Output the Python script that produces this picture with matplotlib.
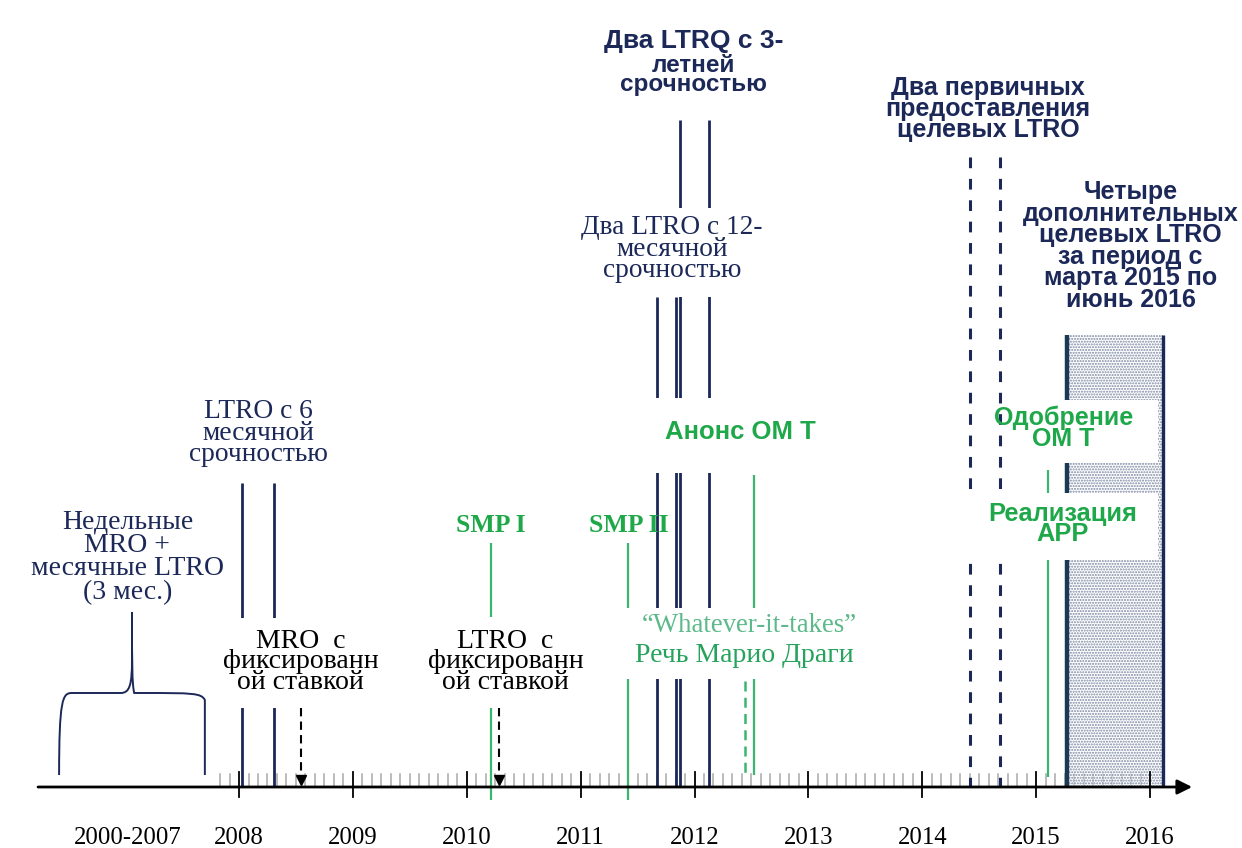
import matplotlib
matplotlib.use("Agg")
import matplotlib.pyplot as plt
from matplotlib.patches import Rectangle, PathPatch
from matplotlib.path import Path

# ECB operations timeline (dates as decimal years)
ltro_6m = [2008.03, 2008.31]
mro_fixed = 2008.54
smp_1 = 2010.21
ltro_fixed = 2010.28
smp_2 = 2011.42
ltro_12m = [2011.67, 2011.84]
ltro_3y = [2011.87, 2012.13]
whatever_speech = 2012.44
omt_announce = 2012.52
tltro_first = [2014.42, 2014.68]
app_start = 2015.10
tltro_more = [2015.27, 2016.11]

years = [2008, 2009, 2010, 2011, 2012, 2013, 2014, 2015, 2016]
year_labels = [str(y) for y in years]
early_label = "2000-2007"

NAVY = "#1b2858"
GREEN = "#3cb56e"
GREEN_TXT = "#1fa84a"
SERIF = "Liberation Serif"
SANS = "Liberation Sans"

fig = plt.figure(figsize=(12.42, 8.48), dpi=100)
ax = fig.add_axes([0, 0, 1, 1])
ax.set_xlim(2005.901, 2016.808)
ax.set_ylim(848, 0)   # vertical layout in pixel units, top = 0
ax.axis("off")

AXIS_Y = 787

# monthly minor ticks and yearly major ticks
for m in range(-2, 8 * 12 + 1):
    x = 2008 + m / 12
    if m % 12 == 0:
        ax.plot([x, x], [772, 797], color="black", lw=1.3, zorder=6)
    else:
        ax.plot([x, x], [774, AXIS_Y], color="#a8a8a8", lw=1.1, zorder=1)

# main time axis with arrow
ax.annotate("", xy=(2016.37, AXIS_Y), xytext=(2006.235, AXIS_Y),
            arrowprops=dict(arrowstyle="-|>", lw=2, color="black",
                            mutation_scale=22, shrinkA=0, shrinkB=0),
            zorder=6)

# shaded period of the additional targeted LTROs
ax.add_patch(Rectangle((tltro_more[0], 335), tltro_more[1] - tltro_more[0],
                       AXIS_Y - 335, facecolor=(1, 1, 1, 0.5),
                       edgecolor="#7d88a3", hatch="......", lw=0, zorder=2))
ax.vlines(tltro_more[0], 335, AXIS_Y, color="#1b3a55", lw=3.2, zorder=3)

# event lines
ax.vlines(ltro_6m, 483, AXIS_Y, color=NAVY, lw=2.0, zorder=3)
ax.vlines(ltro_12m, 297, AXIS_Y, color=NAVY, lw=2.0, zorder=3)
ax.vlines(ltro_3y, 120, AXIS_Y, color=NAVY, lw=2.0, zorder=3)
ax.vlines([smp_1, smp_2], 543, 800, color=GREEN, lw=1.6, zorder=3)
ax.vlines(omt_announce, 475, 775, color=GREEN, lw=1.6, zorder=3)
ax.vlines(app_start, 470, 777, color=GREEN, lw=1.6, zorder=3)
ax.vlines(whatever_speech, 681, 775, color=GREEN, lw=1.8,
          linestyles=(0, (4, 2.5)), zorder=3)
ax.vlines(tltro_first, 157, AXIS_Y, color=NAVY, lw=2.2,
          linestyles=(0, (3.5, 3.5)), zorder=3)

# dashed arrows for fixed-rate full allotment
for x in [mro_fixed, ltro_fixed]:
    ax.vlines(x, 708, 776, color="black", lw=1.5,
              linestyles=(0, (4, 2.5)), zorder=3)
    ax.plot([x], [780], marker="v", ms=7, color="black", zorder=3)

# white masks behind labels that cut through the lines
masks = [
    (2007.85, 2009.28, 618, 708),
    (2009.63, 2011.08, 617, 708),
    (2011.36, 2013.52, 608, 679),
    (2011.59, 2013.19, 398, 473),
    (2011.17, 2012.58, 208, 297),
    (2014.73, 2016.07, 400, 463),
    (2014.38, 2016.07, 493, 560),
]
for x0, x1, y0, y1 in masks:
    ax.add_patch(Rectangle((x0, y0), x1 - x0, y1 - y0, facecolor="white",
                           edgecolor="none", zorder=4))
ax.vlines(tltro_more[1], 335, AXIS_Y, color=NAVY, lw=2.4, zorder=5)

# brace for 2000-2007
c, w = 2007.06, 0.64
verts = [(c - w, 775), (c - w, 700), (c - w + 0.03, 693), (c - w + 0.11, 693),
         (c - 0.1, 693),
         (c - 0.02, 693), (c, 685), (c, 660),
         (c, 612),
         (c, 660), (c, 685), (c + 0.02, 693),
         (c + 0.1, 693),
         (c + w - 0.11, 693), (c + w - 0.03, 693), (c + w, 700),
         (c + w, 775)]
codes = [Path.MOVETO, Path.CURVE4, Path.CURVE4, Path.CURVE4,
         Path.LINETO,
         Path.CURVE4, Path.CURVE4, Path.CURVE4,
         Path.LINETO,
         Path.CURVE4, Path.CURVE4, Path.CURVE4,
         Path.LINETO,
         Path.CURVE4, Path.CURVE4, Path.CURVE4,
         Path.LINETO]
ax.add_patch(PathPatch(Path(verts, codes), facecolor="none", edgecolor=NAVY,
                       lw=1.4, zorder=3))

# year labels
for y, lab in zip(years, year_labels):
    ax.text(y, 838, lab, ha="center", va="center", family=SERIF,
            fontsize=17.8, color="black", zorder=6)
ax.text(2007.02, 838, early_label, ha="center", va="center", family=SERIF,
        fontsize=17.8, color="black", zorder=6)

def label(x, y, s, color, family, size, weight="normal", ls=0.95):
    ax.text(x, y, s, ha="center", va="center", multialignment="center",
            family=family, fontsize=size, fontweight=weight, color=color,
            linespacing=ls, zorder=6)

label(2007.02, 557, "Недельные\nMRO +\nмесячные LTRO\n(3 мес.)", NAVY, SERIF, 20, ls=0.92)
label(sum(ltro_6m) / 2, 433, "LTRO с 6\nмесячной\nсрочностью", NAVY, SERIF, 19.8, ls=0.82)
label(mro_fixed, 662, "MRO  с\nфиксированн\nой ставкой", "black", SERIF, 20, ls=0.78)
label(2010.34, 662, "LTRO  с\nфиксированн\nой ставкой", "black", SERIF, 20, ls=0.78)
label(smp_1, 526, "SMP I", GREEN_TXT, SERIF, 18.5, weight="bold")
label(smp_2, 526, "SMP II", GREEN_TXT, SERIF, 18.5, weight="bold")
ax.text(2012.48, 625, "“Whatever-it-takes”", ha="center", va="center",
        family=SERIF, fontsize=19.3, color="#5cb98a", zorder=6)
ax.text(2012.44, 655, "Речь Марио Драги", ha="center", va="center",
        family=SERIF, fontsize=20, color="#25a35c", zorder=6)
label(2012.40, 432, "Анонс ОМ Т", GREEN_TXT, SANS, 18.5, weight="bold")
label(2011.80, 249, "Два LTRO с 12-\nмесячной\nсрочностью", NAVY, SERIF, 19.7, ls=0.8)
ax.text(2011.99, 41, "Два LTRQ с 3-", ha="center", va="center",
        family=SANS, fontsize=19, fontweight="bold", color=NAVY, zorder=6)
label(2011.99, 75, "летней\nсрочностью", NAVY, SANS, 17.5, weight="bold", ls=0.82)
label(2014.58, 109, "Два первичных\nпредоставления\nцелевых LTRO", NAVY, SANS, 18,
      weight="bold", ls=0.85)
label(2015.83, 246, "Четыре\nдополнительных\nцелевых LTRO\nза период с\nмарта 2015 по\nиюнь 2016",
      NAVY, SANS, 18, weight="bold", ls=0.87)
label(2015.24, 428, "Одобрение\nОМ Т", GREEN_TXT, SANS, 18, weight="bold", ls=0.85)
label(2015.23, 524, "Реализация\nAPP", GREEN_TXT, SANS, 18.3, weight="bold", ls=0.82)

fig.savefig("out.png", dpi=100, facecolor="white")
